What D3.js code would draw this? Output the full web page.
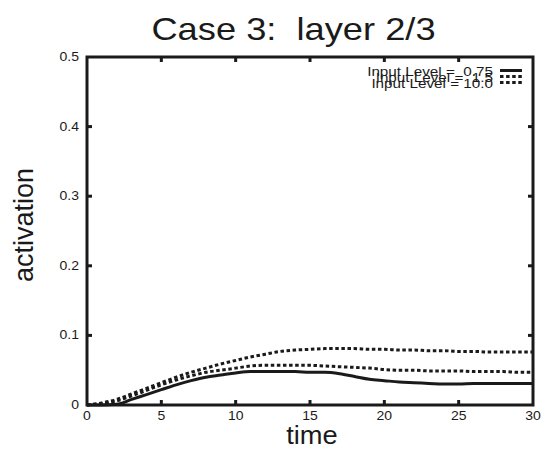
<!DOCTYPE html>
<html>
<head>
<meta charset="utf-8">
<script src="https://cdn.jsdelivr.net/npm/d3@7"></script>
<style>
  body { margin: 0; background: #fff; }
  text { font-family: "Liberation Sans", Arial, Helvetica, sans-serif; fill: #1a1a1a; white-space: pre; }
</style>
</head>
<body>
<svg id="chart" width="542" height="450"></svg>
<script>
// Simulated layer 2/3 activation over time for three input levels
const time      = [0,1,2,3,4,5,6,7,8,9,10,11,12,13,14,15,16,17,18,19,20,21,22,23,24,25,26,27,28,29,30];
const level075  = [0,0,0.001,0.008,0.015,0.022,0.029,0.035,0.040,0.043,0.046,0.048,0.048,0.048,0.048,0.047,0.047,0.045,0.041,0.037,0.035,0.033,0.032,0.031,0.030,0.030,0.031,0.031,0.031,0.031,0.031];
const level15   = [0,0.002,0.006,0.013,0.021,0.029,0.036,0.042,0.047,0.050,0.053,0.056,0.057,0.057,0.057,0.057,0.056,0.055,0.054,0.053,0.051,0.050,0.050,0.049,0.049,0.049,0.048,0.048,0.048,0.047,0.047];
const level10   = [0,0.003,0.008,0.016,0.024,0.032,0.040,0.047,0.053,0.059,0.064,0.069,0.073,0.077,0.079,0.080,0.081,0.081,0.081,0.080,0.080,0.079,0.079,0.078,0.078,0.077,0.077,0.076,0.076,0.076,0.076];
const seriesLabels = ["Input Level =  0.75", "Input Level =  1.5", "Input Level = 10.0"];
const xTicks = [0, 5, 10, 15, 20, 25, 30];
const yTicks = [0, 0.1, 0.2, 0.3, 0.4, 0.5];

const svg = d3.select("#chart");
const plotLeft = 87, plotRight = 533, plotTop = 57, plotBottom = 405;
const ink = "#1a1a1a";

const x = d3.scaleLinear().domain([0, 30]).range([plotLeft, plotRight]);
const y = d3.scaleLinear().domain([0, 0.5]).range([plotBottom, plotTop]);

// helper: text with a slight horizontal stretch
function label(txt, px, py, size, sx, anchor) {
  return svg.append("text")
    .attr("xml:space", "preserve")
    .attr("transform", `translate(${px},${py}) scale(${sx},1)`)
    .attr("font-size", size)
    .attr("text-anchor", anchor || "middle")
    .text(txt);
}

// title
label("Case 3:  layer 2/3", 293.5, 40, 31, 1.17);

// axis titles
label("time", 312, 444, 26, 1.05);
svg.append("text")
  .attr("transform", "translate(33,225) rotate(-90)")
  .attr("font-size", 27)
  .attr("text-anchor", "middle")
  .text("activation");

// series
const series = [
  { values: level075, dash: null },
  { values: level15,  dash: "3.5,2.6" },
  { values: level10,  dash: "3.5,2.6" }
];
const line = d3.line()
  .x((d, i) => x(time[i]))
  .y(d => y(d))
  .curve(d3.curveMonotoneX);

const plot = svg.append("g");
series.forEach(s => {
  plot.append("path")
    .datum(s.values)
    .attr("d", line)
    .attr("fill", "none")
    .attr("stroke", ink)
    .attr("stroke-width", 3)
    .attr("stroke-dasharray", s.dash);
});

// frame and inward ticks on all four sides
svg.append("rect")
  .attr("x", plotLeft).attr("y", plotTop)
  .attr("width", plotRight - plotLeft).attr("height", plotBottom - plotTop)
  .attr("fill", "none").attr("stroke", ink).attr("stroke-width", 3);

const tickLen = 5;
const ticks = svg.append("g").attr("stroke", ink).attr("stroke-width", 3);
xTicks.slice(1, -1).forEach(t => {
  ticks.append("line").attr("x1", x(t)).attr("x2", x(t)).attr("y1", plotBottom).attr("y2", plotBottom - tickLen);
  ticks.append("line").attr("x1", x(t)).attr("x2", x(t)).attr("y1", plotTop).attr("y2", plotTop + tickLen);
});
yTicks.slice(1, -1).forEach(v => {
  ticks.append("line").attr("y1", y(v)).attr("y2", y(v)).attr("x1", plotLeft).attr("x2", plotLeft + tickLen);
  ticks.append("line").attr("y1", y(v)).attr("y2", y(v)).attr("x1", plotRight).attr("x2", plotRight - tickLen);
});

// tick labels
const fmtY = v => v === 0 ? "0" : d3.format(".1f")(v);
xTicks.forEach(t => label(String(t), x(t), 420, 12.5, 1.12));
yTicks.forEach(v => label(fmtY(v), 79, y(v) + 4, 12.5, 1.12, "end"));

// legend
const legendBase = [76, 82, 88];
seriesLabels.forEach((txt, i) => {
  label(txt, 493, legendBase[i], 13.5, 1.13, "end");
  svg.append("line")
    .attr("x1", 500).attr("x2", 522)
    .attr("y1", legendBase[i] - 5.5).attr("y2", legendBase[i] - 5.5)
    .attr("stroke", ink).attr("stroke-width", 3)
    .attr("stroke-dasharray", series[i].dash);
});
</script>
</body>
</html>
